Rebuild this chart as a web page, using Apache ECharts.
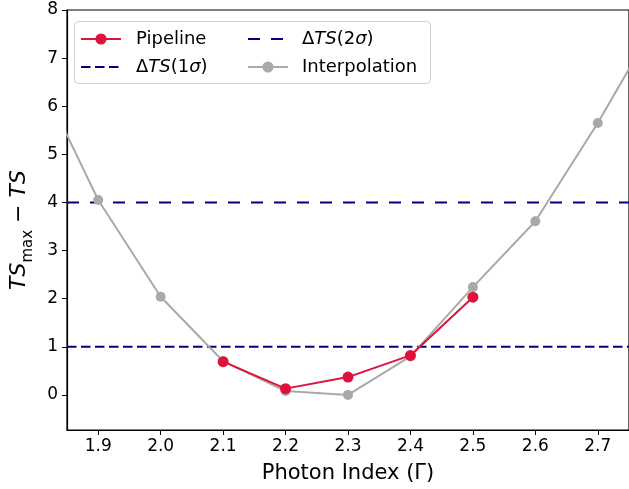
<!DOCTYPE html>
<html>
<head>
<meta charset="utf-8">
<script src="https://cdn.jsdelivr.net/npm/echarts@6/dist/echarts.min.js"></script>
<style>
  html, body { margin: 0; padding: 0; background: #fff; }
  #main { width: 629px; height: 489px; }
</style>
</head>
<body>
<div id="main"></div>
<script>
// photon index scan
var interpIndex = [1.8, 1.9, 2.0, 2.1, 2.2, 2.3, 2.4, 2.5, 2.6, 2.7, 2.8];
var interpDTS = [6.75, 4.05, 2.04, 0.70, 0.08, 0.0, 0.80, 2.24, 3.61, 5.65, 7.9];
var pipeIndex = [2.1, 2.2, 2.3, 2.4, 2.5];
var pipeDTS = [0.69, 0.13, 0.37, 0.82, 2.03];
var sigma1 = 1;
var sigma2 = 4;
var xTicks = [1.9, 2.0, 2.1, 2.2, 2.3, 2.4, 2.5, 2.6, 2.7];
var yTicks = [0, 1, 2, 3, 4, 5, 6, 7, 8];
var xLim = [1.85, 2.75];
var yLim = [-0.73, 8];

var font = 'DejaVu Sans';
var red = '#dc143c', grey = '#a9a9a9', navy = '#000080';

function pairs(xs, ys) {
  return xs.map(function (x, i) { return [x, ys[i]]; });
}

var myChart = echarts.init(document.getElementById('main'));
var legendRich = {
  n: { fontFamily: font, fontSize: 18, color: '#000' },
  i: { fontFamily: font, fontSize: 18, color: '#000', fontStyle: 'italic' }
};
function legendFmt(name) {
  if (name === 'dts1') return '{n|Δ}{i|TS}{n|(1}{i|σ}{n|)}';
  if (name === 'dts2') return '{n|Δ}{i|TS}{n|(2}{i|σ}{n|)}';
  return '{n|' + name + '}';
}
// dashed lines: no marker in the legend
var noMark = { opacity: 0 };

myChart.setOption({
  animation: false,
  backgroundColor: '#fff',
  grid: { left: 64, top: 10, right: -2, bottom: 59, show: true, borderColor: '#000', borderWidth: 1.2 },
  graphic: [{
    type: 'rect',
    shape: { x: 74.5, y: 21.5, width: 356, height: 62, r: 4 },
    style: { fill: 'rgba(255,255,255,0.8)', stroke: '#d0d0d0', lineWidth: 1 },
    z: 5
  }],
  legend: [{
    data: ['Pipeline', { name: 'dts1', itemStyle: noMark }],
    orient: 'vertical',
    left: 80, top: 30, padding: 0,
    itemWidth: 40, itemHeight: 14, itemGap: 10,
    formatter: legendFmt,
    textStyle: { padding: [0, 0, 0, 10], rich: legendRich },
    z: 10
  }, {
    data: [{ name: 'dts2', itemStyle: noMark }, 'Interpolation'],
    orient: 'vertical',
    left: 247, top: 30, padding: 0,
    itemWidth: 40, itemHeight: 14, itemGap: 10,
    formatter: legendFmt,
    textStyle: { padding: [0, 0, 0, 9], rich: legendRich },
    z: 10
  }],
  xAxis: {
    type: 'value',
    min: xLim[0], max: xLim[1],
    name: 'Photon Index (Γ)',
    nameLocation: 'middle',
    nameGap: 33,
    nameTextStyle: { fontFamily: font, fontSize: 21, color: '#000' },
    axisLine: { show: true, onZero: false, lineStyle: { color: '#000', width: 1.2 } },
    axisTick: { show: true, length: 5, customValues: xTicks, lineStyle: { color: '#000' } },
    axisLabel: {
      customValues: xTicks, margin: 8,
      fontFamily: font, fontSize: 17, color: '#000',
      formatter: function (v) { return v.toFixed(1); }
    },
    splitLine: { show: false }
  },
  yAxis: {
    type: 'value',
    min: yLim[0], max: yLim[1],
    name: '{i|TS}{s|max}{n| − }{i|TS}',
    nameLocation: 'middle',
    nameRotate: 90,
    nameGap: 31,
    nameTextStyle: {
      padding: [0, 20, 0, 0],
      rich: {
        i: { fontFamily: font, fontSize: 22, fontStyle: 'italic', color: '#000', lineHeight: 28, verticalAlign: 'top' },
        n: { fontFamily: font, fontSize: 22, color: '#000', lineHeight: 28, verticalAlign: 'top' },
        s: { fontFamily: font, fontSize: 15, color: '#000', lineHeight: 28, verticalAlign: 'bottom' }
      }
    },
    axisLine: { show: true, onZero: false, lineStyle: { color: '#000', width: 1.2 } },
    axisTick: { show: true, length: 5, customValues: yTicks, lineStyle: { color: '#000' } },
    axisLabel: { customValues: yTicks, margin: 9, fontFamily: font, fontSize: 17, color: '#000' },
    splitLine: { show: false }
  },
  series: [{
    name: 'dts1',
    type: 'line',
    data: [[xLim[0], sigma1], [xLim[1], sigma1]],
    symbol: 'none',
    lineStyle: { color: navy, width: 2, type: [9.5, 4.5] },
    itemStyle: { color: navy },
    z: 2
  }, {
    name: 'dts2',
    type: 'line',
    data: [[xLim[0], sigma2], [xLim[1], sigma2]],
    symbol: 'none',
    lineStyle: { color: navy, width: 2, type: [12, 11] },
    itemStyle: { color: navy },
    z: 2
  }, {
    name: 'Interpolation',
    type: 'line',
    data: pairs(interpIndex, interpDTS),
    symbol: 'circle',
    symbolSize: 10,
    lineStyle: { color: grey, width: 2 },
    itemStyle: { color: grey },
    z: 3
  }, {
    name: 'Pipeline',
    type: 'line',
    data: pairs(pipeIndex, pipeDTS),
    symbol: 'circle',
    symbolSize: 11,
    lineStyle: { color: red, width: 2 },
    itemStyle: { color: red },
    z: 4
  }]
});
</script>
</body>
</html>
